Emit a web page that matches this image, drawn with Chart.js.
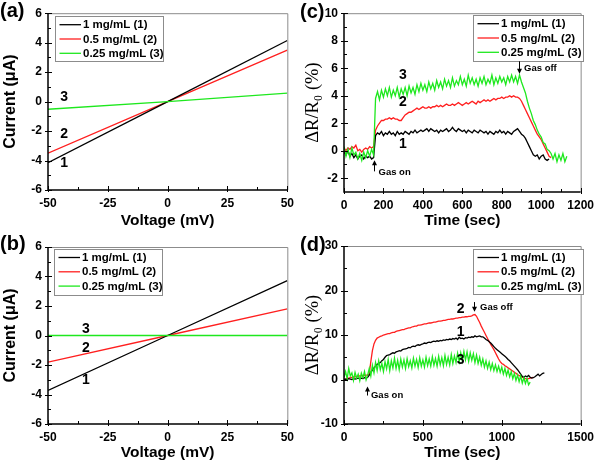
<!DOCTYPE html>
<html>
<head>
<meta charset="utf-8">
<script src="https://cdn.jsdelivr.net/npm/chart.js@4.4.1/dist/chart.umd.min.js"></script>
<style>
  body { margin: 0; background: #fff; }
  canvas.panel { position: absolute; }
</style>
</head>
<body>
<canvas id="panelA" class="panel" width="300" height="232" style="left:0;top:0"></canvas>
<canvas id="panelC" class="panel" width="300" height="232" style="left:300px;top:0"></canvas>
<canvas id="panelB" class="panel" width="300" height="232" style="left:0;top:232px"></canvas>
<canvas id="panelD" class="panel" width="300" height="232" style="left:300px;top:232px"></canvas>
<script>
const seriesNames = ['1 mg/mL (1)', '0.5 mg/mL (2)', '0.25 mg/mL (3)'];
const seriesColors = ['#000000', '#ff1f1f', '#1ee81e'];

// (a), (b) I-V curves
const voltage = [-50, 0, 50];
const currentA1 = [-4.15, 0, 4.15];
const currentA2 = [-3.5, 0, 3.5];
const currentA3 = [-0.52, 0, 0.58];
const currentB1 = [-3.72, 0, 3.72];
const currentB2 = [-1.8, 0, 1.8];
const currentB3 = [0, 0, 0];
const voltageTicks = [-50, -25, 0, 25, 50];
const currentTicks = [-6, -4, -2, 0, 2, 4, 6];

// (c) response, sampled every 10 s
const timeC = Array.from({ length: 114 }, (_, i) => i * 10);
const respC1 = [
  -0.1, -0.3, 0.0, -0.4, -0.2, -0.5, -0.3, -0.6, -0.4, -0.3,
  -0.6, -0.4, -0.5, -0.4, -0.6, -0.5, 1.1, 1.3, 1.2, 1.4,
  1.1, 1.3, 1.2, 1.4, 1.2, 1.3, 1.1, 1.4, 1.2, 1.3,
  1.2, 1.4, 1.3, 1.2, 1.4, 1.3, 1.5, 1.3, 1.4, 1.5,
  1.4, 1.5, 1.6, 1.4, 1.6, 1.5, 1.4, 1.5, 1.3, 1.5,
  1.4, 1.5, 1.6, 1.4, 1.5, 1.7, 1.5, 1.4, 1.6, 1.5,
  1.4, 1.5, 1.3, 1.5, 1.4, 1.3, 1.5, 1.4, 1.3, 1.5,
  1.4, 1.3, 1.4, 1.2, 1.4, 1.3, 1.2, 1.4, 1.3, 1.5,
  1.3, 1.4, 1.2, 1.4, 1.3, 1.2, 1.4, 1.5, 1.6, 1.4,
  1.2, 1.1, 0.9, 0.6, 0.3, 0.0, -0.3, -0.4, -0.3, -0.6,
  -0.4, -0.3, -0.6, -0.7, -0.6
];
const respC2 = [
  0.2, 0.0, 0.2, 0.1, 0.3, 0.2, 0.4, 0.0, 0.1, -0.1,
  0.1, 0.2, 0.1, 0.3, 0.2, 0.3, 1.5, 1.8, 2.0, 2.2,
  2.2, 2.3, 2.3, 2.4, 2.3, 2.4, 2.3, 2.3, 2.2, 2.2,
  2.4, 2.6, 2.7, 2.8, 2.8, 2.9, 3.0, 3.1, 3.0, 3.1,
  3.2, 3.1, 3.1, 3.2, 3.1, 3.2, 3.2, 3.3, 3.2, 3.3,
  3.2, 3.3, 3.4, 3.3, 3.3, 3.4, 3.3, 3.4, 3.5, 3.4,
  3.3, 3.4, 3.5, 3.4, 3.5, 3.6, 3.5, 3.4, 3.6, 3.5,
  3.6, 3.7, 3.6, 3.7, 3.6, 3.7, 3.8, 3.7, 3.8, 3.8,
  3.9, 3.8, 3.9, 3.9, 4.0, 3.9, 4.0, 3.9, 3.9, 3.8,
  3.6, 3.3, 3.0, 2.7, 2.4, 2.1, 1.8, 1.5, 1.2, 1.0,
  0.8, 0.5, 0.2, -0.1, -0.4, -0.5
];
const respC3 = [
  0.3, -0.4, 0.1, -0.5, 0.2, -0.3, -0.1, -0.6, -0.2, -0.7,
  -0.1, -0.5, 0.0, -0.4, 0.1, -0.3, 3.8, 4.3, 3.7, 4.4,
  3.9, 4.5, 4.0, 4.6, 3.9, 4.4, 4.0, 4.6, 3.9, 4.5,
  4.1, 4.6, 4.0, 4.7, 4.2, 4.6, 4.1, 4.8, 4.3, 4.9,
  4.4, 4.8, 4.3, 5.0, 4.5, 4.9, 4.4, 5.1, 4.6, 5.0,
  4.5, 5.2, 4.7, 5.1, 4.6, 5.3, 4.7, 5.1, 4.8, 5.4,
  4.8, 5.2, 4.7, 5.5, 4.9, 5.3, 4.8, 5.2, 4.7, 5.3,
  4.9, 5.4, 4.8, 5.2, 4.9, 5.5, 4.8, 5.3, 4.9, 5.4,
  5.0, 5.3, 4.8, 5.4, 5.0, 5.5, 5.0, 5.4, 4.9, 5.5,
  5.0, 4.6, 4.2, 3.6, 3.1, 2.7, 2.2, 1.9, 1.5, 1.2,
  1.0, 0.6, 0.5, 0.1, 0.0, -0.2, -0.6, -0.2, -0.8, -0.3,
  -0.7, -0.2, -0.8, -0.4
];
const timeTicksC = [0, 200, 400, 600, 800, 1000, 1200];
const respTicksC = [-2, 0, 2, 4, 6, 8, 10];

// (d) response, sampled every 10 s
const timeD = Array.from({ length: 128 }, (_, i) => i * 10);
const respD1 = [
  0.0, 0.1, 0.0, 0.2, 0.1, 0.0, 0.2, 0.1, 0.2, 0.3,
  0.2, 0.3, 0.2, 0.4, 0.3, 0.5, 1.0, 1.6, 2.1, 2.6,
  3.0, 3.4, 3.6, 3.8, 4.2, 4.5, 5.0, 5.4, 5.5, 5.6,
  5.8, 6.0, 5.9, 6.2, 6.3, 6.5, 6.4, 6.7, 6.8, 6.9,
  7.0, 7.2, 7.1, 7.4, 7.5, 7.4, 7.7, 7.8, 7.7, 7.9,
  8.0, 8.2, 8.1, 8.3, 8.4, 8.3, 8.5, 8.6, 8.5, 8.7,
  8.6, 8.8, 8.7, 8.9, 8.8, 9.0, 8.9, 9.1, 9.0, 9.2,
  9.1, 9.3, 9.0, 9.5, 9.2, 9.3, 9.1, 9.4, 9.3, 9.5,
  9.4, 9.6, 9.5, 9.8, 9.6, 9.7, 9.8, 9.6, 9.6, 9.3,
  9.0, 8.8, 8.5, 8.2, 7.8, 7.4, 7.0, 6.7, 6.4, 6.1,
  5.8, 5.5, 5.2, 4.9, 4.5, 4.2, 3.8, 3.4, 3.0, 2.6,
  2.2, 1.7, 1.2, 0.7, 0.5, 0.8, 0.6, 0.9, 0.5, 0.3,
  0.4, 0.6, 0.9, 1.2, 0.8, 1.1, 1.4, 1.5
];
const respD2 = [
  0.0, 0.1, 0.2, 0.3, 0.4, 0.5, 0.6, 0.6, 0.7, 0.7,
  0.8, 0.8, 0.9, 0.9, 1.0, 1.0, 1.2, 4.0, 6.5, 8.0,
  8.8, 9.3, 9.5, 9.7, 9.8, 10.0, 10.1, 10.2, 10.3, 10.3,
  10.5, 10.6, 10.6, 10.8, 10.9, 11.0, 11.1, 11.2, 11.2, 11.4,
  11.5, 11.6, 11.6, 11.8, 11.9, 12.0, 12.0, 12.2, 12.2, 12.3,
  12.4, 12.5, 12.5, 12.6, 12.7, 12.7, 12.8, 12.9, 12.9, 13.0,
  13.1, 13.1, 13.2, 13.3, 13.3, 13.4, 13.5, 13.5, 13.6, 13.6,
  13.7, 13.8, 13.8, 13.9, 13.9, 14.0, 14.0, 14.1, 14.1, 14.2,
  14.2, 14.3, 14.5, 14.6, 14.2, 13.5, 12.8, 12.0, 11.3, 10.6,
  9.9, 9.2, 8.6, 7.9, 7.3, 6.7, 6.0, 5.3, 4.6, 4.0,
  3.6, 3.4, 3.1, 2.9, 2.6, 2.4, 2.1, 1.9, 1.6, 1.4,
  1.1, 0.9, 0.7, 0.5, 0.3, 0.2, 0.1, 0.2, 0.3, 0.4,
  0.5
];
const respD3 = [
  0.5, 1.8, 0.2, 2.5, 0.8, 1.5, -0.2, 1.6, 0.3, 1.2,
  -0.3, 1.4, 0.4, 1.8, -0.1, 1.0, 2.5, 0.8, 3.2, 1.5,
  3.8, 2.0, 4.2, 2.2, 3.6, 1.8, 4.0, 2.4, 4.5, 2.0,
  4.2, 2.6, 4.8, 2.5, 4.3, 2.2, 4.6, 2.8, 4.4, 2.5,
  4.7, 2.9, 4.2, 2.6, 4.8, 3.0, 4.5, 2.7, 4.9, 3.0,
  4.4, 2.8, 5.0, 3.1, 4.6, 3.0, 5.1, 3.2, 4.7, 3.0,
  5.2, 3.3, 4.9, 3.1, 5.4, 3.4, 5.0, 3.3, 5.6, 3.6,
  5.3, 3.8, 5.9, 4.0, 6.0, 4.2, 6.3, 4.4, 6.2, 4.1,
  6.0, 4.3, 5.8, 3.8, 5.5, 3.6, 5.0, 3.2, 4.6, 2.8,
  4.2, 2.5, 3.9, 2.2, 3.6, 2.0, 3.3, 1.8, 3.0, 1.6,
  2.8, 1.2, 2.5, 0.9, 2.1, 0.6, 1.8, 0.2, 1.4, -0.2,
  1.0, -0.5, 0.8, -0.8, 0.4, -0.9, 0.2, -1.2, -0.6
];
const timeTicksD = [0, 500, 1000, 1500];
const respTicksD = [-10, 0, 10, 20, 30];

const sans = '"Liberation Sans", Arial, sans-serif';
const serif = '"Liberation Serif", "Times New Roman", serif';

// frame, inward ticks, legend box, labels and arrows
const paperPlugin = {
  id: 'paper',
  afterDraw(chart, args, o) {
    const ctx = chart.ctx;
    const { left, right, top, bottom } = chart.chartArea;
    const xs = chart.scales.x, ys = chart.scales.y;
    ctx.save();

    ctx.strokeStyle = '#8c8c8c';
    ctx.lineWidth = 1;
    ctx.beginPath();
    ctx.moveTo(left, top + 0.5);
    ctx.lineTo(right + 0.5, top + 0.5);
    ctx.lineTo(right + 0.5, bottom);
    ctx.stroke();

    ctx.strokeStyle = '#000';
    ctx.lineWidth = 1.5;
    ctx.beginPath();
    ctx.moveTo(left, top);
    ctx.lineTo(left, bottom);
    ctx.lineTo(right, bottom);
    ctx.stroke();

    // major + minor ticks
    ctx.lineWidth = 1;
    const minors = (ticks, min, max) => {
      const out = [];
      const step = ticks[1] - ticks[0];
      for (let v = ticks[0] - step / 2; v <= ticks[ticks.length - 1] + step / 2; v += step) {
        if (v > min && v < max) out.push(v);
      }
      return out;
    };
    ctx.beginPath();
    o.xTicks.forEach(v => {
      const px = Math.round(xs.getPixelForValue(v)) + 0.5;
      ctx.moveTo(px, bottom + 2); ctx.lineTo(px, bottom - 4);
    });
    minors(o.xTicks, xs.min, xs.max).forEach(v => {
      const px = Math.round(xs.getPixelForValue(v)) + 0.5;
      ctx.moveTo(px, bottom); ctx.lineTo(px, bottom - 3);
    });
    o.yTicks.forEach(v => {
      const py = Math.round(ys.getPixelForValue(v)) + 0.5;
      ctx.moveTo(left - 3, py); ctx.lineTo(left + 4, py);
    });
    minors(o.yTicks, ys.min, ys.max).forEach(v => {
      const py = Math.round(ys.getPixelForValue(v)) + 0.5;
      ctx.moveTo(left, py); ctx.lineTo(left + 3, py);
    });
    ctx.stroke();

    // legend
    const lg = o.legend;
    const bx = left + lg.dx, by = top + lg.dy;
    ctx.fillStyle = '#fff';
    ctx.fillRect(bx, by, lg.w, lg.h);
    ctx.strokeStyle = '#8c8c8c';
    ctx.lineWidth = 1;
    ctx.strokeRect(Math.round(bx) + 0.5, Math.round(by) + 0.5, lg.w, lg.h);
    ctx.font = 'bold 11.5px ' + sans;
    ctx.textBaseline = 'middle';
    ctx.textAlign = 'left';
    seriesNames.forEach((name, i) => {
      const ry = by + 8.5 + i * 14.3;
      ctx.strokeStyle = seriesColors[i];
      ctx.lineWidth = 1.3;
      ctx.beginPath();
      ctx.moveTo(bx + 4.5, ry); ctx.lineTo(bx + 26, ry);
      ctx.stroke();
      ctx.fillStyle = '#000';
      ctx.fillText(name, bx + 28, ry + 0.5);
    });

    // curve numbers and notes
    o.notes.forEach(n => {
      ctx.font = n.font;
      ctx.textAlign = n.align || 'center';
      ctx.fillStyle = '#000';
      ctx.fillText(n.text, xs.getPixelForValue(n.x), ys.getPixelForValue(n.y));
    });

    // gas on / off arrows
    (o.arrows || []).forEach(a => {
      const px = Math.round(xs.getPixelForValue(a.x)) + 0.5;
      const tip = ys.getPixelForValue(a.tip), tail = ys.getPixelForValue(a.tail);
      const dir = tail > tip ? 1 : -1;
      ctx.strokeStyle = '#000';
      ctx.lineWidth = 1;
      ctx.beginPath();
      ctx.moveTo(px, tail); ctx.lineTo(px, tip + dir * 3);
      ctx.stroke();
      ctx.fillStyle = '#000';
      ctx.beginPath();
      ctx.moveTo(px, tip);
      ctx.lineTo(px - 2.5, tip + dir * 5);
      ctx.lineTo(px + 2.5, tip + dir * 5);
      ctx.closePath();
      ctx.fill();
    });

    // panel letter
    ctx.font = 'bold 20px ' + sans;
    ctx.textAlign = 'left';
    ctx.fillStyle = '#000';
    ctx.fillText(o.letter, 0, o.letterY);
    ctx.restore();
  }
};

function makePanel(id, p) {
  const datasets = p.series.map((s, i) => ({
    label: seriesNames[i],
    data: s.y.map((v, k) => ({ x: s.x[k], y: v })),
    borderColor: seriesColors[i],
    borderWidth: 1.3,
    pointRadius: 0,
    tension: 0,
    order: i === 2 ? 0 : i + 1
  }));
  const tickFont = { family: sans, size: 12, weight: 'bold' };
  new Chart(document.getElementById(id), {
    type: 'line',
    data: { datasets },
    options: {
      responsive: false,
      animation: false,
      devicePixelRatio: 1,
      layout: { padding: { left: 0, top: p.padTop, right: p.padRight, bottom: 0 } },
      plugins: {
        legend: { display: false },
        tooltip: { enabled: false },
        paper: {
          xTicks: p.xTicks, yTicks: p.yTicks, legend: p.legend,
          notes: p.notes, arrows: p.arrows, letter: p.letter, letterY: p.letterY
        }
      },
      scales: {
        x: {
          type: 'linear', min: p.xMin, max: p.xMax,
          afterBuildTicks: s => { s.ticks = p.xTicks.map(v => ({ value: v })); },
          afterFit: s => { s.height = p.xAxisH; },
          grid: { display: false, drawTicks: false },
          border: { display: false },
          ticks: { color: '#000', font: tickFont, padding: 6, maxRotation: 0, autoSkip: false, callback: v => String(v) },
          title: { display: true, text: p.xTitle, color: '#000', font: { family: sans, size: 15.5, weight: 'bold' }, padding: { top: 0, bottom: 2 } }
        },
        y: {
          type: 'linear', min: p.yMin, max: p.yMax,
          afterBuildTicks: s => { s.ticks = p.yTicks.map(v => ({ value: v })); },
          afterFit: s => { s.width = p.yAxisW; },
          grid: { display: false, drawTicks: false },
          border: { display: false },
          ticks: { color: '#000', font: tickFont, padding: 6, autoSkip: false, callback: v => String(v) },
          title: { display: true, text: p.yTitle, color: '#000', font: p.yTitleFont, padding: { top: p.yTitlePad, bottom: 0 } }
        }
      }
    },
    plugins: [paperPlugin]
  });
}

const noteFont = 'bold 14px ' + sans;
const gasFont = 'bold 9.5px ' + sans;

makePanel('panelA', {
  letter: '(a)', letterY: 11,
  series: [
    { x: voltage, y: currentA1 },
    { x: voltage, y: currentA2 },
    { x: voltage, y: currentA3 }
  ],
  xMin: -50, xMax: 50, yMin: -6, yMax: 6,
  xTicks: voltageTicks, yTicks: currentTicks,
  xTitle: 'Voltage (mV)', yTitle: 'Current (\u03bcA)',
  yTitleFont: { family: sans, size: 16, weight: 'bold' }, yTitlePad: 1,
  yAxisW: 48, xAxisH: 42, padTop: 13, padRight: 11,
  legend: { dx: 7, dy: 3, w: 108, h: 45 },
  notes: [
    { text: '3', x: -43.3, y: 0.3, font: noteFont },
    { text: '2', x: -43.3, y: -2.2, font: noteFont },
    { text: '1', x: -43.3, y: -4.2, font: noteFont }
  ]
});

makePanel('panelB', {
  letter: '(b)', letterY: 12,
  series: [
    { x: voltage, y: currentB1 },
    { x: voltage, y: currentB2 },
    { x: voltage, y: currentB3 }
  ],
  xMin: -50, xMax: 50, yMin: -6, yMax: 6,
  xTicks: voltageTicks, yTicks: currentTicks,
  xTitle: 'Voltage (mV)', yTitle: 'Current (\u03bcA)',
  yTitleFont: { family: sans, size: 16, weight: 'bold' }, yTitlePad: 1,
  yAxisW: 48, xAxisH: 40, padTop: 15, padRight: 11,
  legend: { dx: 6, dy: 2, w: 108, h: 46 },
  notes: [
    { text: '3', x: -34.2, y: 0.44, font: noteFont },
    { text: '2', x: -34.2, y: -0.84, font: noteFont },
    { text: '1', x: -34.2, y: -3.0, font: noteFont }
  ]
});

makePanel('panelC', {
  letter: '(c)', letterY: 12,
  series: [
    { x: timeC, y: respC1 },
    { x: timeC, y: respC2 },
    { x: timeC, y: respC3 }
  ],
  xMin: 0, xMax: 1200, yMin: -3, yMax: 10,
  xTicks: timeTicksC, yTicks: respTicksC,
  xTitle: 'Time (sec)', yTitle: '\u0394R/R\u2080 (%)',
  yTitleFont: { family: serif, size: 18.5 }, yTitlePad: 2,
  yAxisW: 44, xAxisH: 40, padTop: 12, padRight: 16,
  legend: { dx: 129, dy: 2, w: 110, h: 46 },
  notes: [
    { text: '3', x: 298, y: 5.5, font: noteFont },
    { text: '2', x: 298, y: 3.55, font: noteFont },
    { text: '1', x: 298, y: 0.45, font: noteFont },
    { text: 'Gas on', x: 175, y: -1.6, font: gasFont, align: 'left' },
    { text: 'Gas off', x: 913, y: 6.0, font: gasFont, align: 'left' }
  ],
  arrows: [
    { x: 153, tip: -0.7, tail: -1.5 },
    { x: 888, tip: 5.6, tail: 6.5 }
  ]
});

makePanel('panelD', {
  letter: '(d)', letterY: 13,
  series: [
    { x: timeD, y: respD1 },
    { x: timeD, y: respD2 },
    { x: timeD, y: respD3 }
  ],
  xMin: 0, xMax: 1500, yMin: -10, yMax: 30,
  xTicks: timeTicksD, yTicks: respTicksD,
  xTitle: 'Time (sec)', yTitle: '\u0394R/R\u2080 (%)',
  yTitleFont: { family: serif, size: 18.5 }, yTitlePad: 2,
  yAxisW: 44, xAxisH: 40, padTop: 14, padRight: 13,
  legend: { dx: 129, dy: 3, w: 110, h: 45 },
  notes: [
    { text: '2', x: 739, y: 15.9, font: noteFont },
    { text: '1', x: 739, y: 10.7, font: noteFont },
    { text: '3', x: 739, y: 4.4, font: noteFont },
    { text: 'Gas on', x: 171, y: -3.6, font: gasFont, align: 'left' },
    { text: 'Gas off', x: 862, y: 16.2, font: gasFont, align: 'left' }
  ],
  arrows: [
    { x: 146, tip: -1.6, tail: -3.6 },
    { x: 825, tip: 15.2, tail: 17.4 }
  ]
});
</script>
</body>
</html>
